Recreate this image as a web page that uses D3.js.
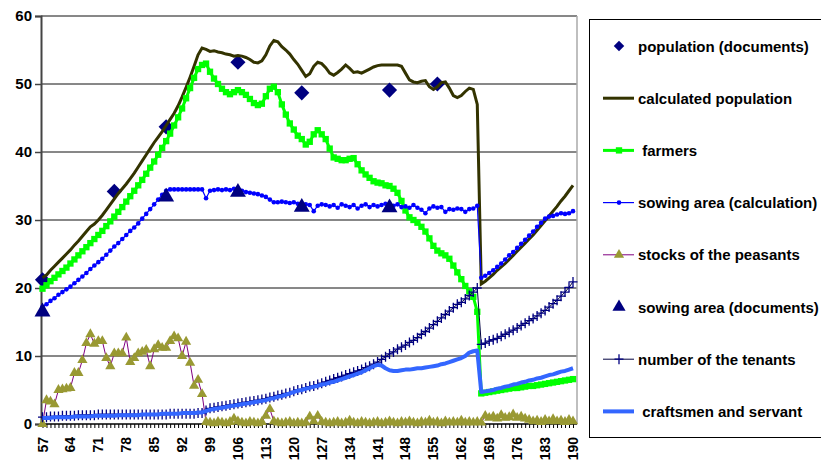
<!DOCTYPE html>
<html>
<head>
<meta charset="utf-8">
<script src="https://cdn.jsdelivr.net/npm/d3@7"></script>
<style>
  body { margin: 0; background: #fff; }
  svg { display: block; font-family: "Liberation Sans", Arial, sans-serif; }
</style>
</head>
<body>
<svg width="821" height="463"></svg>
<script>
// years 57 .. 190, one value per year
const years = d3.range(57, 191);
const tickYears = d3.range(57, 191, 7);
const yTicks = [0, 10, 20, 30, 40, 50, 60];

// population (documents) and sowing area (documents): sparse points
const popDocs = [[57, 21.2], [75, 34.2], [88, 43.7], [106, 53.2], [122, 48.7], [144, 49.1], [156, 50.0]];
const sowDocs = [[57, 16.5], [88, 33.4], [106, 34.1], [122, 31.9], [144, 31.8]];

const calcPop = [
  21.5, 21.9, 22.6, 23.2, 23.8, 24.4, 25.0, 25.6, 26.3, 26.9, 27.6, 28.3, 29.0,      // 57-69
  29.4, 30.0, 30.7, 31.5, 32.3, 33.1, 33.9, 34.6, 35.3, 36.1,                          // 70-79
  36.9, 37.8, 38.7, 39.6, 40.5, 41.4, 42.2, 43.0, 43.9, 44.8,                          // 80-89
  45.7, 46.8, 48.1, 49.5, 51.0, 52.6, 54.3, 55.3, 55.1, 54.8,                          // 90-99
  54.9, 54.7, 54.6, 54.4, 54.3, 54.1, 54.2, 54.1, 53.9, 53.6,                          // 100-109
  53.2, 53.1, 53.4, 54.3, 55.6, 56.4, 56.2, 55.5, 55.0, 54.4,                          // 110-119
  53.6, 52.9, 52.0, 51.1, 51.5, 52.6, 53.2, 53.0, 52.4, 51.6,                          // 120-129
  51.3, 51.7, 52.2, 52.8, 52.3, 51.7, 51.8, 51.6, 51.9, 52.2,                          // 130-139
  52.5, 52.7, 52.8, 52.8, 52.8, 52.8, 52.8, 52.6, 51.6, 50.6,                          // 140-149
  50.3, 50.2, 50.4, 50.5, 49.6, 49.2, 49.6, 50.2, 50.3, 49.4,                          // 150-159
  48.3, 48.0, 48.3, 48.9, 49.4, 49.2, 47.0, 20.6, 21.0, 21.5,                          // 160-169
  22.0, 22.6, 23.1, 23.6, 24.2, 24.8, 25.4, 26.0, 26.6, 27.2,                          // 170-179
  27.8, 28.5, 29.2, 29.9, 30.6, 31.3, 32.0, 32.8, 33.5, 34.3,                          // 180-189
  35.1                                                                                 // 190
];

const farmers = [
  19.9, 20.4, 21.0, 21.5, 22.0, 22.5, 23.0, 23.6, 24.2, 24.8, 25.4, 26.0, 26.6,
  27.2, 27.8, 28.4, 29.1, 29.8, 30.5, 31.2, 31.9, 32.7, 33.5,
  34.3, 35.1, 35.9, 36.8, 37.7, 38.6, 39.6, 40.6, 41.6, 42.7,
  43.9, 45.1, 46.4, 47.9, 49.4, 50.9, 52.2, 52.8, 53.0, 51.8,
  50.8, 50.0, 49.3, 48.8, 48.5, 48.8, 49.1, 48.8, 48.4, 47.8,
  47.2, 46.9, 47.1, 48.2, 49.3, 49.6, 48.8, 47.0, 45.5, 44.2,
  43.3, 42.4, 41.9, 41.1, 41.5, 42.6, 43.2, 42.6, 41.9, 40.5,
  39.2, 39.0, 38.8, 38.8, 39.0, 39.1, 38.2, 37.3, 36.7, 36.2,
  35.7, 35.5, 35.4, 35.1, 35.0, 34.6, 34.0, 32.8, 31.4, 30.4,
  30.0, 29.6, 29.0, 28.3, 27.3, 26.2, 25.5, 25.1, 24.8, 24.3,
  23.3, 22.3, 21.3, 20.3, 19.5, 18.7, 16.5, 4.5, 4.6, 4.7,
  4.8, 4.9, 5.0, 5.1, 5.2, 5.3, 5.3, 5.4, 5.5, 5.6,
  5.6, 5.7, 5.8, 5.9, 6.0, 6.1, 6.2, 6.3, 6.4, 6.5,
  6.6
];

const sowCalc = [
  17.2, 17.6, 18.1, 18.5, 19.0, 19.4, 19.8, 20.2, 20.7, 21.2, 21.7, 22.2, 22.8,
  23.3, 23.8, 24.3, 24.9, 25.5, 26.1, 26.6, 27.2, 27.8, 28.4,
  28.9, 29.5, 30.2, 30.9, 31.6, 32.3, 33.0, 33.7, 34.3, 34.5,
  34.5, 34.5, 34.5, 34.5, 34.5, 34.5, 34.5, 34.5, 33.2, 34.3,
  34.4, 34.5, 34.4, 34.5, 34.4, 34.6, 34.5, 34.3, 34.1, 34.0,
  33.9, 33.8, 33.6, 33.4, 33.0, 32.6, 32.6, 32.7, 32.6, 32.5,
  32.6, 32.4, 32.4, 32.3, 32.2, 31.3, 32.1, 32.3, 32.2, 32.0,
  32.2, 31.8, 32.3, 32.1, 31.9, 32.2, 31.7, 32.1, 32.3, 31.9,
  32.2, 32.0, 32.2, 32.4, 32.0, 32.1, 32.3, 31.9, 32.0, 31.8,
  32.2, 31.8, 31.5, 31.0, 31.7, 32.0, 31.8, 31.9, 31.2, 31.6,
  31.5, 31.7, 31.6, 31.2, 31.6, 31.7, 32.1, 21.5, 21.8, 22.2,
  22.6, 23.1, 23.6, 24.2, 24.8, 25.3, 25.9, 26.5, 27.1, 27.7,
  28.3, 29.0, 29.6, 30.2, 30.5, 30.6, 30.8, 31.0, 30.9, 31.0,
  31.3
];

const stocks = [
  0.0, 3.5, 3.3, 2.9, 5.0, 5.1, 5.2, 5.3, 7.5, 7.5, 9.4, 11.9, 13.2,
  11.8, 12.2, 12.2, 9.7, 8.5, 10.4, 10.4, 10.4, 12.7, 9.1,
  9.7, 10.4, 10.6, 10.9, 8.5, 11.0, 11.6, 11.2, 11.2, 12.2,
  12.9, 12.6, 10.0, 12.1, 9.0, 5.6, 6.5, 4.4, 0.3, 0.2,
  0.1, 0.3, 0.2, 0.1, 0.3, 0.8, 0.4, 0.2, 0.1, 0.3,
  0.2, 0.1, 0.3, 1.2, 2.2, 0.4, 0.2, 0.1, 0.2, 0.3,
  0.1, 0.2, 0.1, 0.2, 1.1, 0.4, 1.2, 0.3, 0.2, 0.1,
  0.2, 0.3, 0.1, 0.2, 0.5, 0.2, 0.1, 0.3, 0.2, 0.1,
  0.2, 0.3, 0.1, 0.2, 0.4, 0.2, 0.1, 0.3, 0.2, 0.4,
  0.2, 0.1, 0.3, 0.2, 0.5, 0.2, 0.3, 0.1, 0.4, 0.2,
  0.3, 0.2, 0.5, 0.2, 0.3, 0.2, 0.3, 0.2, 1.2, 0.9,
  1.1, 0.8, 1.3, 0.9, 1.0, 1.4, 0.9, 1.1, 0.8, 0.6,
  0.4, 0.5, 0.3, 0.6, 0.4, 0.7, 0.4, 0.5, 0.3, 0.6,
  0.4
];

const tenants = [
  1.0, 1.0, 1.1, 1.1, 1.1, 1.2, 1.2, 1.2, 1.2, 1.3, 1.3, 1.3, 1.3,
  1.3, 1.4, 1.4, 1.4, 1.4, 1.4, 1.4, 1.4, 1.4, 1.4,
  1.4, 1.4, 1.4, 1.4, 1.4, 1.4, 1.4, 1.4, 1.4, 1.5,
  1.5, 1.5, 1.5, 1.5, 1.5, 1.5, 1.6, 1.6, 2.0, 2.3,
  2.4, 2.5, 2.6, 2.7, 2.8, 2.9, 3.0, 3.1, 3.2, 3.3,
  3.4, 3.5, 3.6, 3.7, 3.9, 4.0, 4.2, 4.3, 4.5, 4.6,
  4.8, 5.0, 5.1, 5.3, 5.5, 5.6, 5.8, 6.0, 6.2, 6.4,
  6.6, 6.8, 7.0, 7.2, 7.4, 7.6, 7.8, 8.0, 8.3, 8.5,
  8.8, 9.1, 9.5, 9.9, 10.3, 10.6, 11.0, 11.3, 11.6, 12.0,
  12.3, 12.7, 13.2, 13.6, 14.1, 14.6, 15.1, 15.6, 16.1, 16.6,
  17.1, 17.6, 17.9, 18.4, 18.9, 19.4, 20.0, 11.7, 11.9, 12.2,
  12.4, 12.6, 12.9, 13.2, 13.5, 13.8, 14.1, 14.5, 14.8, 15.2,
  15.5, 15.9, 16.3, 16.7, 17.2, 17.7, 18.2, 18.8, 19.4, 20.1,
  20.9
];

const craftsmen = [
  0.9, 0.9, 0.9, 1.0, 1.0, 1.0, 1.0, 1.0, 1.1, 1.1, 1.1, 1.1, 1.1,
  1.2, 1.2, 1.2, 1.2, 1.2, 1.2, 1.3, 1.3, 1.3, 1.3,
  1.3, 1.3, 1.4, 1.4, 1.4, 1.4, 1.4, 1.5, 1.5, 1.5,
  1.5, 1.5, 1.6, 1.6, 1.6, 1.6, 1.7, 1.7, 1.9, 2.1,
  2.2, 2.3, 2.4, 2.5, 2.6, 2.7, 2.8, 2.9, 3.0, 3.1,
  3.2, 3.3, 3.4, 3.5, 3.7, 3.8, 4.0, 4.1, 4.3, 4.5,
  4.7, 4.9, 5.0, 5.2, 5.3, 5.5, 5.6, 5.8, 5.9, 6.1,
  6.2, 6.4, 6.6, 6.8, 7.0, 7.2, 7.4, 7.6, 7.9, 8.2,
  8.5, 8.7, 8.6, 8.2, 7.9, 7.8, 7.8, 7.9, 8.0, 8.0,
  8.1, 8.2, 8.2, 8.3, 8.4, 8.5, 8.6, 8.8, 8.9, 9.1,
  9.3, 9.5, 9.7, 10.0, 10.5, 10.7, 10.8, 4.7, 4.8, 4.9,
  5.0, 5.2, 5.3, 5.5, 5.6, 5.8, 5.9, 6.1, 6.2, 6.4,
  6.5, 6.7, 6.8, 7.0, 7.2, 7.3, 7.5, 7.7, 7.8, 8.0,
  8.2
];

const legendLabels = [
  "population (documents)", "calculated population", " farmers",
  "sowing area (calculation)", "stocks of the peasants", "sowing area (documents)",
  "number of the tenants", " craftsmen and servant"
];

const svg = d3.select("svg");
const plot = { left: 41, right: 577, top: 16, bottom: 424 };

const x = d3.scalePoint().domain(years).range([42.5, 573]);
const y = d3.scaleLinear().domain([0, 60]).range([plot.bottom, plot.top]);

// gridlines
svg.append("g")
  .selectAll("line")
  .data(yTicks.filter(d => d > 0))
  .join("line")
  .attr("x1", plot.left).attr("x2", plot.right)
  .attr("y1", d => y(d)).attr("y2", d => y(d))
  .attr("stroke", "#111").attr("stroke-width", 1);

// right border of plot
svg.append("line")
  .attr("x1", plot.right).attr("x2", plot.right)
  .attr("y1", plot.top).attr("y2", plot.bottom)
  .attr("stroke", "#aaa").attr("stroke-width", 1.5);

// y axis
const yAxis = svg.append("g")
  .attr("transform", "translate(" + plot.left + ",0)")
  .call(d3.axisLeft(y).tickValues(yTicks).tickSize(6).tickPadding(3));
yAxis.select(".domain").attr("stroke", "#444").attr("stroke-width", 2);
yAxis.selectAll(".tick line").attr("stroke", "#444").attr("stroke-width", 1.5);
yAxis.selectAll("text")
  .attr("font-size", 15).attr("font-weight", "bold")
  .attr("font-family", "Liberation Sans, Arial, sans-serif").attr("fill", "#000");

// x axis: a tick for every year, a label every 7 years
const xAxis = svg.append("g")
  .attr("transform", "translate(0," + plot.bottom + ")")
  .call(d3.axisBottom(x).tickSize(4).tickFormat(""));
xAxis.select(".domain").attr("d", "M" + plot.left + ",0H" + plot.right).attr("stroke", "#000").attr("stroke-width", 1.5);
xAxis.selectAll(".tick line").attr("stroke", "#000");

svg.append("g")
  .selectAll("text")
  .data(tickYears)
  .join("text")
  .attr("transform", d => "translate(" + (x(d) + 5) + ",437) rotate(-90)")
  .attr("text-anchor", "end")
  .attr("font-size", 14).attr("font-weight", "bold")
  .text(d => d);

const line = vals => d3.line().x((d, i) => x(years[i])).y(d => y(d))(vals);

const triangle = d3.symbol().type(d3.symbolTriangle);
const square = d3.symbol().type(d3.symbolSquare);
const plus = "M-4.5,0H4.5M0,-5V5";

// population (documents): squares turned 45 degrees
svg.append("g").selectAll("path").data(popDocs).join("path")
  .attr("d", square.size(115)())
  .attr("transform", d => "translate(" + x(d[0]) + "," + y(d[1]) + ") rotate(45)")
  .attr("fill", "#000080");

// calculated population
svg.append("path").attr("d", line(calcPop))
  .attr("fill", "none").attr("stroke", "#333300").attr("stroke-width", 3);

// farmers
svg.append("path").attr("d", line(farmers))
  .attr("fill", "none").attr("stroke", "#00ff00").attr("stroke-width", 3);
svg.append("g").selectAll("path").data(farmers).join("path")
  .attr("d", square.size(40)())
  .attr("transform", (d, i) => "translate(" + x(years[i]) + "," + y(d) + ")")
  .attr("fill", "#00ff00");

// sowing area (calculation)
svg.append("path").attr("d", line(sowCalc))
  .attr("fill", "none").attr("stroke", "#0000ff").attr("stroke-width", 1.2);
svg.append("g").selectAll("circle").data(sowCalc).join("circle")
  .attr("cx", (d, i) => x(years[i])).attr("cy", d => y(d)).attr("r", 2.3)
  .attr("fill", "#0000ff");

// stocks of the peasants
svg.append("path").attr("d", line(stocks))
  .attr("fill", "none").attr("stroke", "#800080").attr("stroke-width", 1);
svg.append("g").selectAll("path").data(stocks).join("path")
  .attr("d", triangle.size(45)())
  .attr("transform", (d, i) => "translate(" + x(years[i]) + "," + y(d) + ")")
  .attr("fill", "#999933");

// sowing area (documents)
svg.append("g").selectAll("path").data(sowDocs).join("path")
  .attr("d", triangle.size(110)())
  .attr("transform", d => "translate(" + x(d[0]) + "," + y(d[1]) + ")")
  .attr("fill", "#000080");

// number of the tenants
svg.append("path").attr("d", line(tenants))
  .attr("fill", "none").attr("stroke", "#000040").attr("stroke-width", 1);
svg.append("g").selectAll("path").data(tenants).join("path")
  .attr("d", plus)
  .attr("transform", (d, i) => "translate(" + x(years[i]) + "," + y(d) + ")")
  .attr("stroke", "#000080").attr("stroke-width", 1.3);

// craftsmen and servant
svg.append("path").attr("d", line(craftsmen))
  .attr("fill", "none").attr("stroke", "#3366ff").attr("stroke-width", 4)
  .attr("stroke-linejoin", "round");

// legend
const lg = svg.append("g");
lg.append("rect")
  .attr("x", 589.5).attr("y", 19.5).attr("width", 240).attr("height", 418)
  .attr("fill", "#fff").attr("stroke", "#000").attr("stroke-width", 1);

const rowY = i => 46 + i * 52.2;
const sx0 = 603, sx1 = 634, sxm = 619;

legendLabels.forEach((t, i) => {
  lg.append("text")
    .attr("x", 638).attr("y", rowY(i) + 5.5)
    .attr("font-size", 15).attr("font-weight", "bold")
    .attr("xml:space", "preserve")
    .text(t);
});

lg.append("path").attr("d", square.size(55)())
  .attr("transform", "translate(" + sxm + "," + rowY(0) + ") rotate(45)").attr("fill", "#000080");
lg.append("line").attr("x1", sx0).attr("x2", sx1).attr("y1", rowY(1)).attr("y2", rowY(1))
  .attr("stroke", "#333300").attr("stroke-width", 3);
lg.append("line").attr("x1", sx0).attr("x2", sx1).attr("y1", rowY(2)).attr("y2", rowY(2))
  .attr("stroke", "#00ff00").attr("stroke-width", 3);
lg.append("path").attr("d", square.size(40)())
  .attr("transform", "translate(" + sxm + "," + rowY(2) + ")").attr("fill", "#00ff00");
lg.append("line").attr("x1", sx0).attr("x2", sx1).attr("y1", rowY(3)).attr("y2", rowY(3))
  .attr("stroke", "#0000ff").attr("stroke-width", 1.2);
lg.append("circle").attr("cx", sxm).attr("cy", rowY(3)).attr("r", 2.3).attr("fill", "#0000ff");
lg.append("line").attr("x1", sx0).attr("x2", sx1).attr("y1", rowY(4)).attr("y2", rowY(4))
  .attr("stroke", "#800080").attr("stroke-width", 1);
lg.append("path").attr("d", triangle.size(45)())
  .attr("transform", "translate(" + sxm + "," + rowY(4) + ")").attr("fill", "#999933");
lg.append("path").attr("d", triangle.size(75)())
  .attr("transform", "translate(" + sxm + "," + rowY(5) + ")").attr("fill", "#000080");
lg.append("line").attr("x1", sx0).attr("x2", sx1).attr("y1", rowY(6)).attr("y2", rowY(6))
  .attr("stroke", "#000040").attr("stroke-width", 1);
lg.append("path").attr("d", plus)
  .attr("transform", "translate(" + sxm + "," + rowY(6) + ")")
  .attr("stroke", "#000080").attr("stroke-width", 1.3);
lg.append("line").attr("x1", sx0).attr("x2", sx1).attr("y1", rowY(7)).attr("y2", rowY(7))
  .attr("stroke", "#3366ff").attr("stroke-width", 4);
</script>
</body>
</html>
